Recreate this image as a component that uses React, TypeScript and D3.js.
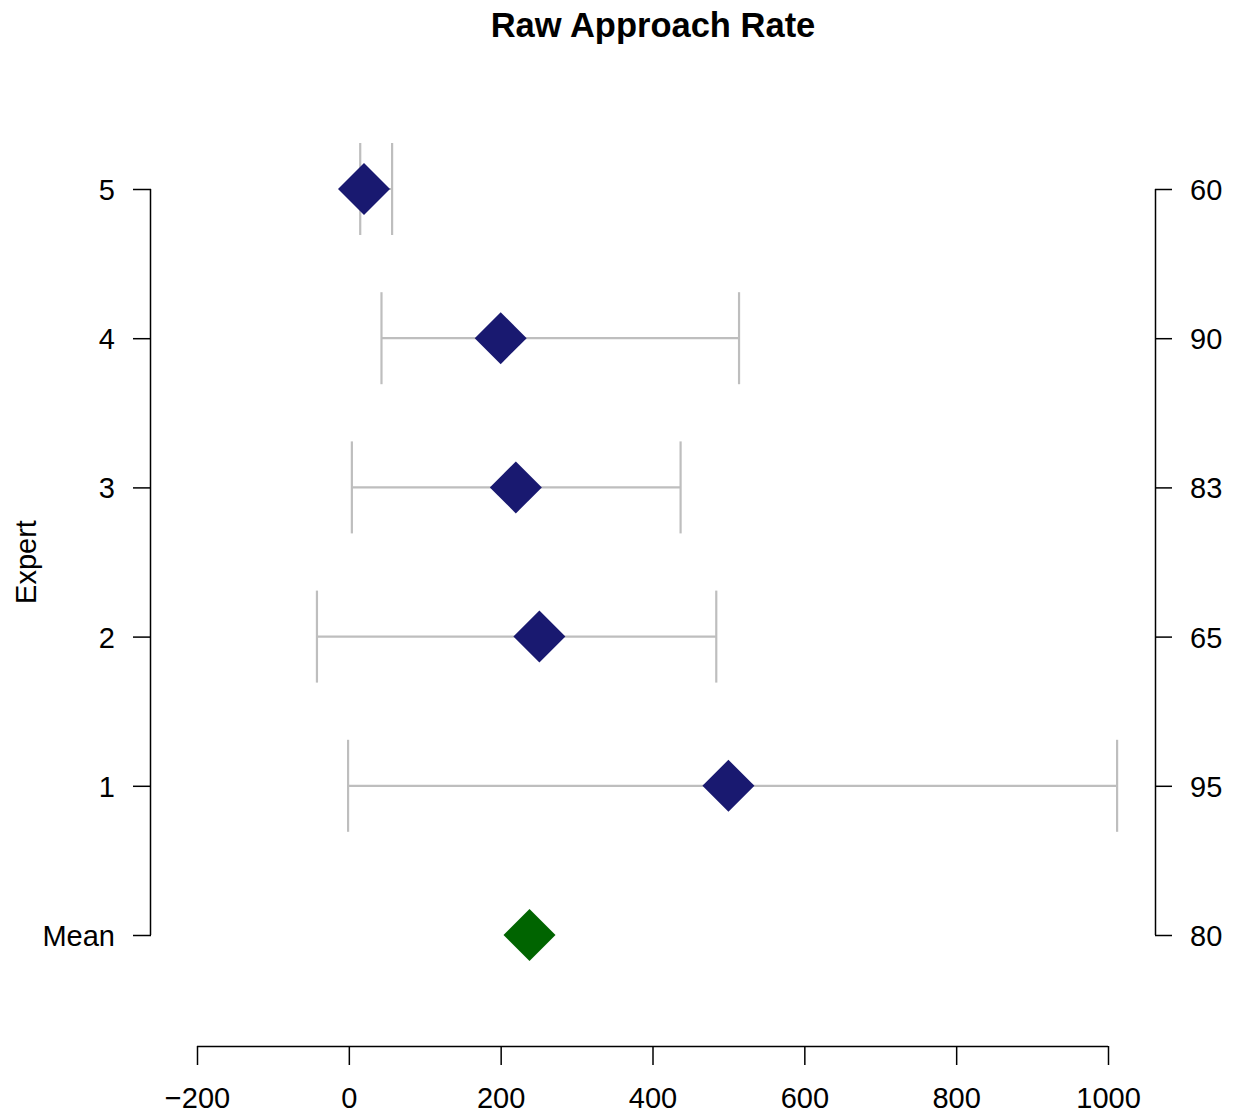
import React, { useRef, useEffect } from "react";
import * as d3 from "d3";

// chart data
const rows = ["5", "4", "3", "2", "1", "Mean"];
const rightLabels = ["60", "90", "83", "65", "95", "80"];
const estimates = [20, 200, 220, 251, 500, 238];
const lowers = [15, 43, 4, -42, -1, null];
const uppers = [57, 514, 437, 484, 1012, null];
const xTicks = [-200, 0, 200, 400, 600, 800, 1000];

const App = () => {
  const svgRef = useRef<SVGSVGElement>(null);

  useEffect(() => {
    const font = "'Liberation Sans', Arial, sans-serif";

    const svg = d3.select(svgRef.current);
    svg.selectAll("*").remove();

    const x = d3.scaleLinear().domain([-200, 1000]).range([197, 1108]);
    const y = d3.scalePoint().domain(rows).range([189, 935]);

    // title
    svg
      .append("text")
      .attr("x", 653)
      .attr("y", 37)
      .attr("text-anchor", "middle")
      .style("font-family", font)
      .style("font-size", "34.5px")
      .style("font-weight", "bold")
      .text("Raw Approach Rate");

    // left axis
    const left = svg
      .append("g")
      .attr("transform", "translate(151,0)")
      .call(d3.axisLeft(y).tickSize(18).tickPadding(18));
    left.select(".domain").attr("d", `M-0.5,${y("5")}V${y("Mean")}`);

    // right axis
    const right = svg
      .append("g")
      .attr("transform", "translate(1155,0)")
      .call(
        d3
          .axisRight(y)
          .tickSize(17)
          .tickPadding(18)
          .tickFormat((d, i) => rightLabels[i])
      );
    right.select(".domain").attr("d", `M0.5,${y("5")}V${y("Mean")}`);

    // bottom axis
    const bottom = svg
      .append("g")
      .attr("transform", "translate(0,1046)")
      .call(
        d3
          .axisBottom(x)
          .tickValues(xTicks)
          .tickSize(19)
          .tickPadding(22)
          .tickFormat((d) => String(d).replace("-", "\u2212"))
      );
    bottom.select(".domain").attr("d", `M${x(-200)},0.5H${x(1000)}`);

    [left, right, bottom].forEach((g) => {
      g.attr("font-size", null).attr("font-family", null);
      g.selectAll("text")
        .style("font-family", font)
        .style("font-size", "29px")
        .attr("fill", "#000");
      g.selectAll("line").attr("stroke", "#000").attr("stroke-width", 1.5);
      g.select(".domain").attr("stroke", "#000").attr("stroke-width", 1.5);
    });
    left.selectAll("text").attr("dy", "0.36em");
    right.selectAll("text").attr("dy", "0.36em");

    // y axis title
    svg
      .append("text")
      .attr("transform", `translate(36,${(y("5")! + y("Mean")!) / 2}) rotate(-90)`)
      .attr("text-anchor", "middle")
      .style("font-family", font)
      .style("font-size", "29px")
      .text("Expert");

    const data = rows.map((r, i) => ({
      row: r,
      est: estimates[i],
      lo: lowers[i],
      hi: uppers[i],
    }));

    // error bars
    const bars = svg
      .append("g")
      .attr("stroke", "#bebebe")
      .attr("stroke-width", 2.2)
      .selectAll("g")
      .data(data.filter((d) => d.lo !== null))
      .join("g");
    bars
      .append("line")
      .attr("x1", (d) => x(d.lo!))
      .attr("x2", (d) => x(d.hi!))
      .attr("y1", (d) => y(d.row)!)
      .attr("y2", (d) => y(d.row)!);
    bars
      .append("line")
      .attr("x1", (d) => x(d.lo!))
      .attr("x2", (d) => x(d.lo!))
      .attr("y1", (d) => y(d.row)! - 46)
      .attr("y2", (d) => y(d.row)! + 46);
    bars
      .append("line")
      .attr("x1", (d) => x(d.hi!))
      .attr("x2", (d) => x(d.hi!))
      .attr("y1", (d) => y(d.row)! - 46)
      .attr("y2", (d) => y(d.row)! + 46);

    // diamonds
    const s = 26;
    svg
      .append("g")
      .selectAll("path")
      .data(data)
      .join("path")
      .attr("d", `M0,${-s}L${s},0L0,${s}L${-s},0Z`)
      .attr("transform", (d) => `translate(${x(d.est)},${y(d.row)})`)
      .attr("fill", (d) => (d.row === "Mean" ? "#006400" : "#191970"));
  }, []);

  return (
    <svg
      ref={svgRef}
      width={1235}
      height={1120}
      style={{ display: "block", position: "absolute", left: 0, top: 0, background: "#fff" }}
    />
  );
};

export default App;
